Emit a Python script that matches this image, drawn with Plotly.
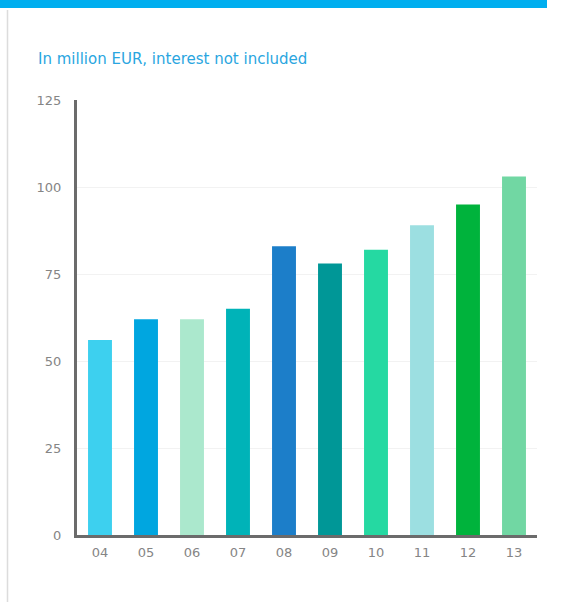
import plotly.graph_objects as go

# Years (two-digit labels) and amounts in million EUR
years = ["04", "05", "06", "07", "08", "09", "10", "11", "12", "13"]
amounts = [56, 62, 62, 65, 83, 78, 82, 89, 95, 103]
bar_colors = ["#3dd0ef", "#00a6e0", "#abe8cd", "#00b3b8", "#1c7ec9",
              "#009797", "#25d9a2", "#9cdfe1", "#00b33c", "#71d7a3"]
y_ticks = [0, 25, 50, 75, 100, 125]

W, H = 561, 602
L, R, T, B = 77, 24, 100, 67
pw, ph = W - L - R, H - T - B


def px(x):
    return (x - L) / pw


def py(y):
    return (H - B - y) / ph


fig = go.Figure(go.Bar(
    x=years, y=amounts,
    marker=dict(color=bar_colors, line=dict(width=0)),
    hoverinfo="x+y",
))

fig.update_layout(
    width=W, height=H,
    margin=dict(l=L, r=R, t=T, b=B),
    paper_bgcolor="white", plot_bgcolor="white",
    bargap=0.48,
    showlegend=False,
    font=dict(family="DejaVu Sans", size=13, color="#777777"),
    xaxis=dict(
        type="category", showgrid=False, ticks="",
        showline=True, linecolor="#6b6b6b", linewidth=3,
        tickfont=dict(size=13, color="#858585"),
        ticklabelstandoff=3,
    ),
    yaxis=dict(
        range=[0, 125], tickvals=y_ticks, ticks="",
        showgrid=True, gridcolor="#f2f2f2", gridwidth=1,
        zeroline=False,
        showline=True, linecolor="#6b6b6b", linewidth=3,
        tickfont=dict(size=13, color="#858585"),
        ticklabelstandoff=10,
    ),
    shapes=[
        # blue header band
        dict(type="rect", xref="paper", yref="paper",
             x0=px(0), x1=px(547), y0=py(8), y1=py(0),
             fillcolor="#00aeef", line=dict(width=0), layer="above"),
        # thin left border line
        dict(type="line", xref="paper", yref="paper",
             x0=px(7.5), x1=px(7.5), y0=py(10), y1=py(602),
             line=dict(color="#dcdcdc", width=1.5)),
    ],
    annotations=[
        dict(text="In million EUR, interest not included",
             xref="paper", yref="paper", x=px(36), y=py(59),
             xanchor="left", yanchor="middle", showarrow=False,
             font=dict(family="DejaVu Sans", size=15, color="#2aa6df")),
    ],
)

fig.write_html("out.html")
